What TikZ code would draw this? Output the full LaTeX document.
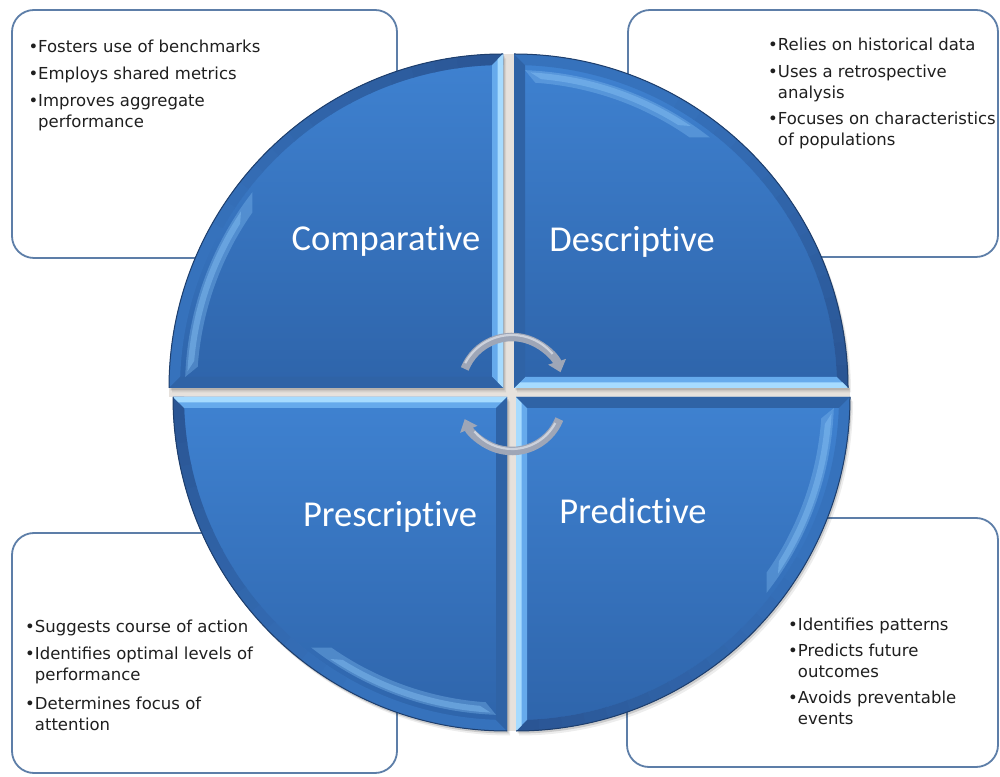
\documentclass[tikz,border=0pt]{standalone}
\usepackage{fontspec}
\newfontfamily\listfont{DejaVu Sans}
\newfontfamily\titlefont[Ligatures=NoCommon]{Carlito}
\usetikzlibrary{arrows.meta}
\definecolor{boxline}{HTML}{5D7EA8}
\definecolor{qtop}{HTML}{3F82D1}
\definecolor{qbot}{HTML}{2E64AA}
\definecolor{bevlight}{HTML}{66AAEC}
\definecolor{bevlighter}{HTML}{A6DBFF}
\definecolor{bevdark}{HTML}{2F63A6}
\definecolor{arcband}{HTML}{3672BC}
\definecolor{arcdark}{HTML}{2A5594}
\definecolor{archi}{HTML}{86C1F4}
\definecolor{rim}{HTML}{1E3E6C}
\definecolor{gapfill}{HTML}{E6E1DC}
\definecolor{arrbody}{HTML}{9EA6B7}
\definecolor{arrhi}{HTML}{CDD2DC}
\tikzset{
  infobox/.style={draw=boxline, line width=1.8pt, fill=white, rounded corners=22pt},
  listtext/.style={font=\listfont\fontsize{16.5}{21}\selectfont, text=black!88, align=left, anchor=north west, inner sep=0pt},
  titletext/.style={font=\titlefont\fontsize{36.5}{40}\selectfont, text=white, anchor=base, inner sep=0pt},
  cycarrow/.style={draw=arrbody, line width=8.5pt, -{Triangle[width=18pt,length=11pt]}},
  cychi/.style={draw=arrhi, line width=2.2pt}
}
% quadrant: corner x, corner y, rotation
\newcommand\quadpiece[3]{%
  \begin{scope}[shift={(#1,#2)}]
    \fill[black, opacity=0.14] (1.5,-2.5) -- ++(#3:334) arc[start angle=#3, end angle=#3+90, radius=334] -- cycle;
    \fill[black, opacity=0.07] (3,-4.5) -- ++(#3:334) arc[start angle=#3, end angle=#3+90, radius=334] -- cycle;
    \shade[top color=qtop, bottom color=qbot] (0,0) -- (#3:334) arc[start angle=#3, end angle=#3+90, radius=334] -- cycle;
    \begin{scope}[rotate=#3]
      % arc band, graded from dark to mid
      \fill[arcband] (334,0) arc[start angle=0, end angle=90, radius=334] -- (11,322.8) arc[start angle=88.05, end angle=1.95, radius=323] -- cycle;
      \foreach \a [evaluate=\a as \pc using {100-\a*100/60}] in {0,4,...,56}{
        \fill[arcdark!\pc!arcband] (\a:334) arc[start angle=\a, end angle=\a+4.3, radius=334] -- (\a+4.3:323) arc[start angle=\a+4.3, end angle=\a, radius=323] -- cycle;
      }
      % light straight edge
      \fill[bevlight] (0,0) -- (334,0) -- (322.8,11) -- (11,11) -- cycle;
      \fill[bevlighter] (0,0) -- (334,0) -- (328.5,5.5) -- (5.5,5.5) -- cycle;
      % dark straight edge
      \fill[bevdark] (0,0) -- (0,334) -- (11,322.8) -- (11,11) -- cycle;
      % highlight crescent
      \fill[archi, opacity=0.35] (88:318) arc[start angle=88, end angle=52, radius=318] -- (55:306) arc[start angle=55, end angle=86, radius=306] -- cycle;
      \fill[archi, opacity=0.45] (87:316) arc[start angle=87, end angle=56, radius=316] -- (58:310) arc[start angle=58, end angle=85, radius=310] -- cycle;
      % rim
      \draw[rim, line width=1pt] (334,0) arc[start angle=0, end angle=90, radius=334];
    \end{scope}
  \end{scope}}
\begin{document}
\begin{tikzpicture}[x=1pt,y=1pt]
\useasboundingbox (0,0) rectangle (1000,776);
\fill[white] (0,0) rectangle (1000,776);
% boxes
\draw[infobox] (12,518) rectangle (397,766);
\draw[infobox] (628,519) rectangle (998,766);
\draw[infobox] (12,3) rectangle (397,243);
\draw[infobox] (627,9) rectangle (998,258);
% gaps
\fill[gapfill] (503,388) rectangle (514,722);
\fill[gapfill] (507,45) rectangle (516,379);
\fill[gapfill] (169,379) rectangle (850,388);
% quadrants
\quadpiece{514}{388}{0}
\quadpiece{503}{388}{90}
\quadpiece{507}{379}{180}
\quadpiece{516}{379}{270}
% titles
\node[titletext] (tcomp) at (386,525) {Comparative};
\node[titletext] (tdesc) at (632,524) {Descriptive};
\node[titletext] (tpres) at (390,249) {Prescriptive};
\node[titletext] (tpred) at (633,252) {Predictive};
% cycle arrows
\coordinate (cyctop) at (512,388);
\coordinate (cycbot) at (512,376);
\draw[cycarrow] ([shift={(158:51)}]cyctop) arc[start angle=158, end angle=18, radius=51];
\draw[cychi] ([shift={(152:53)}]cyctop) arc[start angle=152, end angle=40, radius=53];
\draw[cycarrow] ([shift={(-22:51)}]cycbot) arc[start angle=-22, end angle=-158, radius=51];
\draw[cychi] ([shift={(-28:49)}]cycbot) arc[start angle=-28, end angle=-140, radius=49];
% lists
\node[listtext] (ltl) at (28.3,736) {•Fosters use of benchmarks\\[5.7pt]•Employs shared metrics\\[5.7pt]•Improves aggregate\\\hphantom{•}performance};
\node[listtext] (ltr) at (768,738.7) {•Relies on historical data\\[6.3pt]•Uses a retrospective\\\hphantom{•}analysis\\[5pt]•Focuses on characteristics\\\hphantom{•}of populations};
\node[listtext] (lbl) at (25,156) {•Suggests course of action\\[5.7pt]•Identifies optimal levels of\\\hphantom{•}performance\\[8.4pt]•Determines focus of\\\hphantom{•}attention};
\node[listtext] (lbr) at (788,158.7) {•Identifies patterns\\[5.7pt]•Predicts future\\\hphantom{•}outcomes\\[4.7pt]•Avoids preventable\\\hphantom{•}events};
\end{tikzpicture}
\end{document}
